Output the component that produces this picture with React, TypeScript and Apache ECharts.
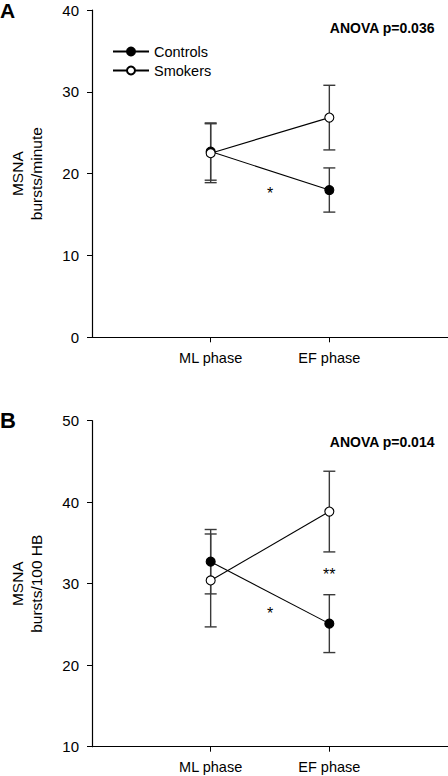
import React, { useEffect, useRef } from "react";
import * as echarts from "echarts";

const phases = ["ML phase", "EF phase"];
const seriesNames = ["Controls", "Smokers"];

// Panel A: bursts/minute
const controlsA = [22.7, 18.0];
const controlsASem = [3.5, 2.7];
const smokersA = [22.5, 26.85];
const smokersASem = [3.6, 3.95];
const starsA = [[1.5, 17.6, "*"]];

// Panel B: bursts/100 HB
const controlsB = [32.7, 25.1];
const controlsBSem = [3.95, 3.55];
const smokersB = [30.4, 38.85];
const smokersBSem = [5.7, 4.95];
const starsB = [
  [1.5, 26.3, "*"],
  [2, 31.1, "**"],
];

const FONT = "'Liberation Sans', Arial, sans-serif";

function errData(means: number[], sem: number[]) {
  return means.map((m, i) => [i + 1, m - sem[i], m + sem[i]]);
}

function errSeries(means: number[], sem: number[], idx: number) {
  return {
    type: "custom",
    xAxisIndex: idx,
    yAxisIndex: idx,
    z: 1,
    silent: true,
    data: errData(means, sem),
    renderItem: (params: any, api: any) => {
      const x = api.value(0);
      const lo = api.coord([x, api.value(1)]);
      const hi = api.coord([x, api.value(2)]);
      const w = 6;
      const style = { stroke: "#3a3a3a", lineWidth: 1.4 };
      return {
        type: "group",
        children: [
          { type: "line", shape: { x1: hi[0], y1: hi[1], x2: lo[0], y2: lo[1] }, style },
          { type: "line", shape: { x1: hi[0] - w, y1: hi[1], x2: hi[0] + w, y2: hi[1] }, style },
          { type: "line", shape: { x1: lo[0] - w, y1: lo[1], x2: lo[0] + w, y2: lo[1] }, style },
        ],
      };
    },
  };
}

function lineSeries(name: string, means: number[], idx: number, filled: boolean) {
  return {
    type: "line",
    name,
    xAxisIndex: idx,
    yAxisIndex: idx,
    z: 3,
    data: means.map((m, i) => [i + 1, m]),
    symbol: "circle",
    symbolSize: 9,
    lineStyle: { color: "#000", width: 1.1 },
    itemStyle: { color: filled ? "#000" : "#fff", borderColor: "#000", borderWidth: 1.1 },
  };
}

function starSeries(stars: any[], idx: number) {
  return {
    type: "custom",
    xAxisIndex: idx,
    yAxisIndex: idx,
    silent: true,
    z: 4,
    data: stars.map((s) => [s[0], s[1]]),
    renderItem: (params: any, api: any) => {
      const p = api.coord([api.value(0), api.value(1)]);
      return {
        type: "text",
        x: p[0],
        y: p[1],
        style: {
          text: String(stars[params.dataIndex][2]),
          fill: "#000",
          fontSize: 16,
          fontFamily: FONT,
          align: "center",
          verticalAlign: "middle",
        },
      };
    },
  };
}

function xAxis(idx: number) {
  return {
    type: "value",
    gridIndex: idx,
    min: 0,
    max: 3,
    interval: 1,
    splitLine: { show: false },
    axisLine: { lineStyle: { color: "#000", width: 1.2 } },
    axisTick: { customValues: [1, 2], length: 5, lineStyle: { color: "#000" } },
    axisLabel: {
      customValues: [1, 2],
      formatter: (v: number) => phases[Math.round(v) - 1] ?? "",
      margin: 13,
      color: "#000",
      fontSize: 14.5,
      fontFamily: FONT,
    },
  };
}

function yAxis(idx: number, min: number, max: number, name: string) {
  return {
    type: "value",
    gridIndex: idx,
    min,
    max,
    interval: 10,
    name,
    nameLocation: "middle",
    nameRotate: 90,
    nameGap: 46,
    nameTextStyle: { color: "#000", fontSize: 15.5, fontFamily: FONT, lineHeight: 19 },
    splitLine: { show: false },
    axisLine: { show: true, lineStyle: { color: "#000", width: 1.2 } },
    axisTick: { show: true, length: 5, lineStyle: { color: "#000" } },
    axisLabel: { margin: 13, color: "#000", fontSize: 15, fontFamily: FONT },
  };
}

export default function App() {
  const ref = useRef<HTMLDivElement>(null);
  useEffect(() => {
    if (!ref.current) return;
    const chart = echarts.init(ref.current, null, { renderer: "svg" });
    chart.setOption({
      animation: false,
      backgroundColor: "#fff",
      grid: [
        { left: 87, top: 10, width: 361, height: 327.3 },
        { left: 87, top: 420.7, width: 361, height: 326 },
      ],
      xAxis: [xAxis(0), xAxis(1)],
      yAxis: [
        yAxis(0, 0, 40, "MSNA\nbursts/minute"),
        yAxis(1, 10, 50, "MSNA\nbursts/100 HB"),
      ],
      legend: {
        data: seriesNames,
        orient: "vertical",
        left: 107,
        top: 39,
        itemWidth: 36,
        itemHeight: 10,
        itemGap: 4,
        textStyle: { color: "#000", fontSize: 14.5, fontFamily: FONT },
      },
      graphic: [
        { type: "text", left: 0, top: 0, style: { text: "A", fontSize: 21, fontWeight: "bold", fontFamily: FONT, fill: "#000" } },
        { type: "text", left: 0, top: 409, style: { text: "B", fontSize: 22, fontWeight: "bold", fontFamily: FONT, fill: "#000" } },
        { type: "text", right: 13, top: 21, style: { text: "ANOVA p=0.036", fontSize: 14, fontWeight: "bold", fontFamily: FONT, fill: "#000" } },
        { type: "text", right: 13, top: 435, style: { text: "ANOVA p=0.014", fontSize: 14, fontWeight: "bold", fontFamily: FONT, fill: "#000" } },
      ],
      series: [
        errSeries(controlsA, controlsASem, 0),
        errSeries(smokersA, smokersASem, 0),
        lineSeries(seriesNames[0], controlsA, 0, true),
        lineSeries(seriesNames[1], smokersA, 0, false),
        starSeries(starsA, 0),
        errSeries(controlsB, controlsBSem, 1),
        errSeries(smokersB, smokersBSem, 1),
        lineSeries(seriesNames[0], controlsB, 1, true),
        lineSeries(seriesNames[1], smokersB, 1, false),
        starSeries(starsB, 1),
      ],
    });
    return () => chart.dispose();
  }, []);
  return (
    <div
      ref={ref}
      style={{ position: "fixed", left: 0, top: 0, width: 448, height: 776, background: "#fff" }}
    />
  );
}
